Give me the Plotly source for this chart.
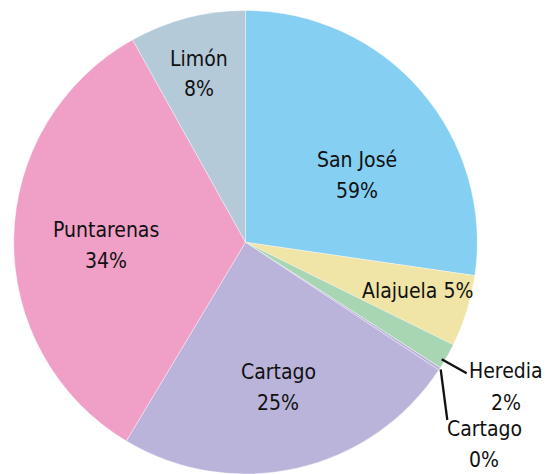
import plotly.graph_objects as go

# Data (slice sizes; shown labels as printed)
regions = ["San José", "Alajuela", "Heredia", "Cartago (0%)", "Cartago", "Puntarenas", "Limón"]
values = [27.3, 5.0, 1.8, 0.2, 24.3, 33.3, 8.1]
label_names = ["San José", "Alajuela", "Heredia", "Cartago", "Cartago", "Puntarenas", "Limón"]
label_pcts = ["59%", "5%", "2%", "0%", "25%", "34%", "8%"]

colors = ["#84cff2", "#f0e4a6", "#a8d6b2", "#bab4da", "#bab4da", "#f0a0c6", "#b4cad8"]

# page body has an 8px margin; size the figure to fill the rest of the window
OFF = 8
W, H = 550 - OFF, 474 - OFF
FONT = "DejaVu Sans Condensed, Liberation Sans Narrow, Roboto, sans-serif"
FS = 21


def sx(px):
    return (px - OFF) / W


def sy(py):
    return 1 - (py - OFF) / H


fig = go.Figure(go.Pie(
    labels=regions,
    values=values,
    sort=False,
    direction="clockwise",
    rotation=0,
    textinfo="none",
    hoverinfo="label+value",
    marker=dict(colors=colors, line=dict(color="rgba(255,255,255,0.6)", width=0.6)),
    domain=dict(x=[sx(13), sx(478)], y=[0, sy(10.5)]),
    showlegend=False,
))

# label placement: centre x and baselines of the two text lines (layout only)
label_x = [357, 417, 506, 484, 278, 105.5, 199]
label_base = [(167.3, 198), (298.3, None), (378.3, 410), (436, 467.3),
              (379.3, 410.7), (237.3, 268.3), (66, 96.7)]

for name, pct, px, (b1, b2) in zip(label_names, label_pcts, label_x, label_base):
    lines = [(f"{name} {pct}", b1)] if b2 is None else [(name, b1), (pct, b2)]
    for txt, base in lines:
        fig.add_annotation(
            x=sx(px), y=sy(base - 7.5), xref="paper", yref="paper",
            text=txt, showarrow=False, xanchor="center", yanchor="middle",
            align="center", font=dict(family=FONT, size=FS, color="#111111"),
        )

# leader lines for the small slices
leaders = [((441.7, 359.3), (466.7, 373.3)), ((440.7, 369.5), (447.3, 420))]
for (x0, y0), (x1, y1) in leaders:
    fig.add_shape(type="line", xref="paper", yref="paper",
                  x0=sx(x0), y0=sy(y0), x1=sx(x1), y1=sy(y1),
                  line=dict(color="#111111", width=2.3))

fig.update_layout(
    width=W, height=H,
    margin=dict(l=0, r=0, t=0, b=0),
    paper_bgcolor="white", plot_bgcolor="white",
)

fig.write_html("out.html")
